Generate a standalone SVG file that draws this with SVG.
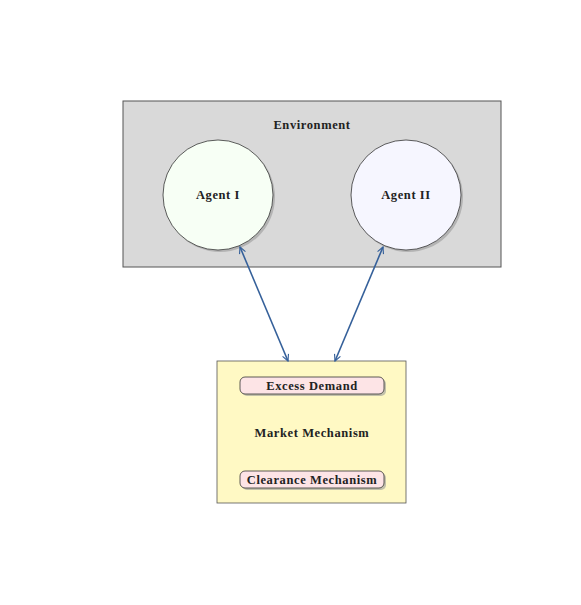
<svg xmlns="http://www.w3.org/2000/svg" width="581" height="605" viewBox="0 0 581 605">
<style>
text{font-family:"Liberation Serif","DejaVu Serif",serif;font-weight:bold;font-size:12.5px;letter-spacing:0.6px;fill:#222;text-anchor:middle;dominant-baseline:central}
.sh{fill:#999;opacity:0.6}
.edge{stroke:#35609a;stroke-width:1.6;fill:none;marker-start:url(#ah);marker-end:url(#ah)}
</style>
<defs>
<marker id="ah" viewBox="0 0 10 10" refX="9" refY="5" markerWidth="8" markerHeight="8" orient="auto-start-reverse" markerUnits="userSpaceOnUse">
<path d="M1,1 L9,5 L1,9" fill="none" stroke="#35609a" stroke-width="1.4"/>
</marker>
</defs>
<rect width="581" height="605" fill="#fff"/>
<g id="environment">
<rect x="123" y="101" width="378" height="166" fill="#d9d9d9" stroke="#555" stroke-width="1"/>
<text x="312" y="125">Environment</text>
</g>
<g id="agent1">
<circle cx="220" cy="197" r="55" class="sh"/>
<circle cx="218" cy="195" r="55" fill="#f7fff5" stroke="#333" stroke-width="0.8"/>
<text x="218" y="195">Agent I</text>
</g>
<g id="agent2">
<circle cx="408" cy="197" r="55" class="sh"/>
<circle cx="406" cy="195" r="55" fill="#f6f6ff" stroke="#333" stroke-width="0.8"/>
<text x="406" y="195">Agent II</text>
</g>
<g id="market">
<rect x="217" y="361" width="189" height="142" fill="#fff9c4" stroke="#555" stroke-width="0.8"/>
<text x="312" y="433">Market Mechanism</text>
</g>
<g id="excess">
<rect x="242" y="379" width="144" height="17" rx="5" class="sh"/>
<rect x="240" y="377" width="144" height="17" rx="5" fill="#fde4e6" stroke="#333" stroke-width="0.8"/>
<text x="312" y="385.5">Excess Demand</text>
</g>
<g id="clearance">
<rect x="242" y="473" width="144" height="17" rx="5" class="sh"/>
<rect x="240" y="471" width="144" height="17" rx="5" fill="#fde4e6" stroke="#333" stroke-width="0.8"/>
<text x="312" y="479.5">Clearance Mechanism</text>
</g>
<g id="connectors">
<line x1="240" y1="247" x2="288" y2="361" class="edge"/>
<line x1="383" y1="247" x2="335" y2="361" class="edge"/>
</g>
</svg>
